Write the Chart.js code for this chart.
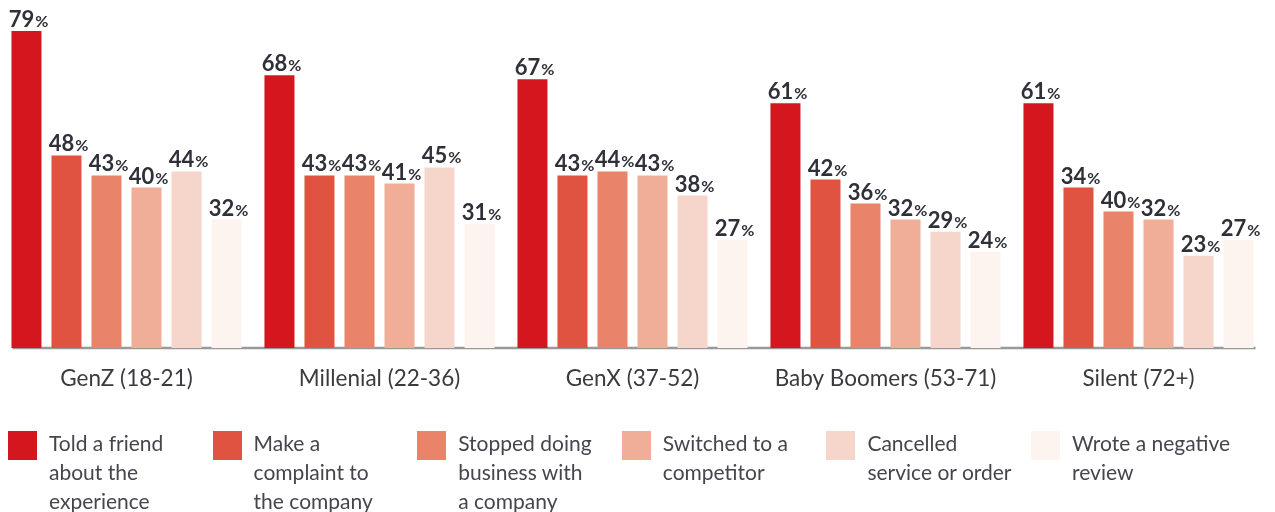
<!DOCTYPE html>
<html>
<head>
<meta charset="utf-8">
<script src="https://cdn.jsdelivr.net/npm/chart.js@4/dist/chart.umd.min.js"></script>
<style>
  html, body { margin: 0; padding: 0; background: #fff; }
  #wrap { position: relative; width: 1275px; height: 512px; overflow: hidden; }
  #chart { position: absolute; left: 0; top: 0; }
  #legend { position: absolute; left: 0; top: 431px; width: 1275px; height: 81px; }
  .item { position: absolute; top: 0; }
  .sw { position: absolute; left: 0; top: 0; width: 29px; height: 29px; }
  .txt { position: absolute; left: 41px; top: -3px; font-family: Lato, sans-serif; font-size: 21px;
         line-height: 29px; color: #45454d; white-space: nowrap; }
</style>
</head>
<body>
<div id="wrap">
  <canvas id="chart" width="1275" height="512"></canvas>
  <div id="legend"></div>
</div>
<script>
// ---- Data ----
const groups = ['GenZ (18-21)', 'Millenial (22-36)', 'GenX (37-52)', 'Baby Boomers (53-71)', 'Silent (72+)'];
const seriesNames = [
  ['Told a friend', 'about the', 'experience'],
  ['Make a', 'complaint to', 'the company'],
  ['Stopped doing', 'business with', 'a company'],
  ['Switched to a', 'competitor'],
  ['Cancelled', 'service or order'],
  ['Wrote a negative', 'review']
];
// bar heights as drawn
const toldFriend = [79, 68, 67, 61, 61];
const complaint  = [48, 43, 43, 42, 40];
const stopped    = [43, 43, 44, 36, 34];
const switched   = [40, 41, 43, 32, 32];
const cancelled  = [44, 45, 38, 29, 23];
const negReview  = [32, 31, 27, 24, 27];
// printed labels (the source swaps two labels in the Silent group)
const complaintText = [48, 43, 43, 42, 34];
const stoppedText   = [43, 43, 44, 36, 40];

const seriesValues = [toldFriend, complaint, stopped, switched, cancelled, negReview];
const seriesText = [toldFriend, complaintText, stoppedText, switched, cancelled, negReview];
const colors = ['#D4171E', '#E05340', '#E9836A', '#F0AE98', '#F6D5CA', '#FDF3EF'];

// ---- Data labels: bold number + smaller % ----
const valueLabels = {
  id: 'valueLabels',
  afterDatasetsDraw(chart) {
    const c = chart.ctx;
    c.save();
    c.fillStyle = '#2f3038';
    c.textBaseline = 'alphabetic';
    c.textAlign = 'left';
    chart.data.datasets.forEach((ds, i) => {
      chart.getDatasetMeta(i).data.forEach((bar, j) => {
        const num = String(seriesText[i][j]);
        c.font = 'bold 22px Lato';
        const wn = c.measureText(num).width;
        c.font = 'bold 16px Lato';
        const wp = c.measureText('%').width;
        const x0 = bar.x + 2 - (wn + wp + 1) / 2;
        const y = bar.y - 4;
        c.font = 'bold 22px Lato';
        c.fillText(num, x0, y);
        c.font = 'bold 16px Lato';
        c.fillText('%', x0 + wn + 1, y);
      });
    });
    c.restore();
  }
};

// ---- Baseline under the bars ----
const baseLine = {
  id: 'baseLine',
  beforeDatasetsDraw(chart) {
    const first = chart.getDatasetMeta(0).data[0];
    const lastMeta = chart.getDatasetMeta(chart.data.datasets.length - 1);
    const last = lastMeta.data[lastMeta.data.length - 1];
    const c = chart.ctx;
    c.save();
    c.strokeStyle = '#999999';
    c.lineWidth = 2.5;
    c.beginPath();
    c.moveTo(first.x - first.width / 2 + 1, chart.chartArea.bottom);
    c.lineTo(last.x + last.width / 2 + 2, chart.chartArea.bottom);
    c.stroke();
    c.restore();
  }
};

new Chart(document.getElementById('chart'), {
  type: 'bar',
  data: {
    labels: groups,
    datasets: seriesValues.map((vals, i) => ({
      label: seriesNames[i].join(' '),
      data: vals,
      backgroundColor: colors[i],
      borderWidth: 0,
      categoryPercentage: 0.949,
      barPercentage: 0.75
    }))
  },
  options: {
    responsive: false,
    animation: false,
    layout: { padding: { top: 7, left: 0, right: 10, bottom: 103 } },
    plugins: {
      legend: { display: false },
      tooltip: { enabled: false }
    },
    scales: {
      x: {
        grid: { display: false, drawTicks: false },
        border: { display: false },
        ticks: { color: '#3a3a3f', font: { family: 'Lato', size: 22.5 }, padding: 17 }
      },
      y: {
        display: false,
        min: 0,
        max: 85
      }
    }
  },
  plugins: [baseLine, valueLabels]
});

// ---- HTML legend ----
const legend = document.getElementById('legend');
seriesNames.forEach((lines, i) => {
  const item = document.createElement('div');
  item.className = 'item';
  item.style.left = (8 + i * 204.6) + 'px';
  const sw = document.createElement('div');
  sw.className = 'sw';
  sw.style.background = colors[i];
  const txt = document.createElement('div');
  txt.className = 'txt';
  txt.innerHTML = lines.join('<br>');
  item.appendChild(sw);
  item.appendChild(txt);
  legend.appendChild(item);
});
</script>
</body>
</html>
